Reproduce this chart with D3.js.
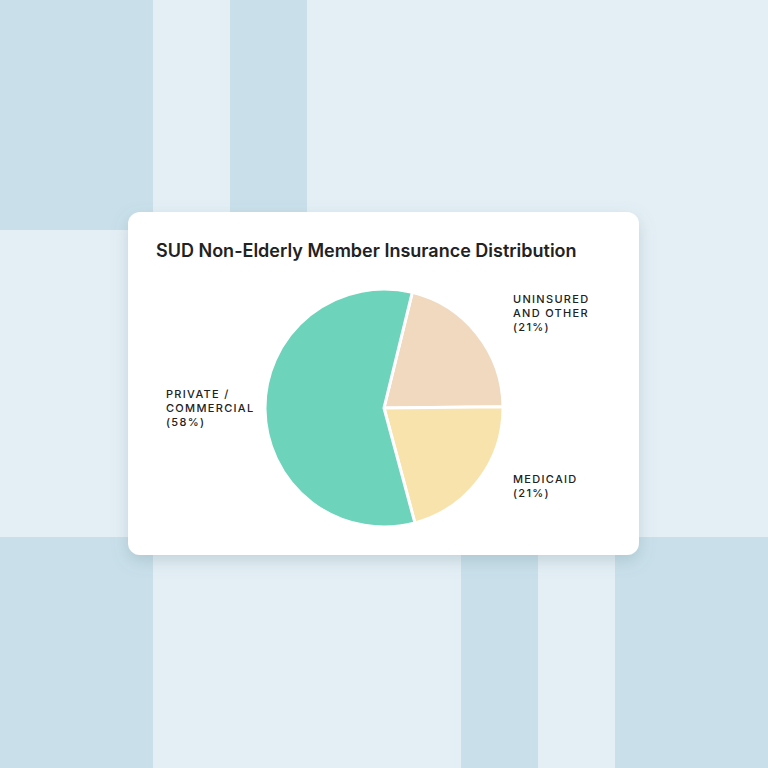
<!DOCTYPE html>
<html><head><meta charset="utf-8">
<script src="https://cdn.jsdelivr.net/npm/d3@7"></script>
<style>body{margin:0;background:#e4eff5}</style>
</head><body>
<div id="plot"></div>
<script>
// Data
const labels = [["UNINSURED", "AND OTHER", "(21%)"], ["MEDICAID", "(21%)"], ["PRIVATE /", "COMMERCIAL", "(58%)"]];
const names = ["Uninsured and Other", "Medicaid", "Private / Commercial"];
const values = [21, 21, 58];
const colors = ["#f0d9bf", "#f9e3ad", "#6dd4bb"];

const width = 768, height = 768;
const svg = d3.select('#plot').append('svg')
  .attr('width', width).attr('height', height)
  .style('display', 'block');

// background blocks
svg.append('rect').attr('width', width).attr('height', height).attr('fill', '#e4eff5');
const dark = '#c9e0ea';
[[0, 0, 153, 230], [230, 0, 77, 230], [0, 537, 153, 231], [461, 537, 77, 231], [615, 537, 153, 231]]
  .forEach(b => svg.append('rect').attr('x', b[0]).attr('y', b[1]).attr('width', b[2]).attr('height', b[3]).attr('fill', dark));

// card
const defs = svg.append('defs');
const f = defs.append('filter').attr('id', 'sh').attr('x', '-20%').attr('y', '-20%').attr('width', '140%').attr('height', '140%');
f.append('feDropShadow').attr('dx', 0).attr('dy', 6).attr('stdDeviation', 8).attr('flood-color', '#5a7a8a').attr('flood-opacity', 0.25);
svg.append('rect').attr('x', 128).attr('y', 212).attr('width', 511).attr('height', 343)
  .attr('rx', 12).attr('fill', '#fff').attr('filter', 'url(#sh)');

svg.append('text').attr('x', 156).attr('y', 257)
  .style('font-family', 'Inter, sans-serif').style('font-size', '18px').style('font-weight', 600)
  .attr('fill', '#222').text('SUD Non-Elderly Member Insurance Distribution');

// pie
const cx = 384, cy = 408, r = 119;
const pie = d3.pie().sort(null).startAngle(0.24).endAngle(0.24 + 2 * Math.PI);
const arc = d3.arc().innerRadius(0).outerRadius(r);
svg.append('g').attr('transform', `translate(${cx},${cy})`)
  .selectAll('path').data(pie(values)).join('path')
  .attr('d', arc).attr('fill', (d, i) => colors[i])
  .attr('stroke', '#fff').attr('stroke-width', 3).attr('stroke-linejoin', 'round');

// labels
const labelPos = [[513, 303], [513, 483], [166, 398]];
labels.forEach((lines, i) => {
  const t = svg.append('text').attr('x', labelPos[i][0]).attr('y', labelPos[i][1])
    .style('font-family', 'Inter, sans-serif').style('font-size', '11px').style('font-weight', 500)
    .style('letter-spacing', '1.3px').attr('fill', '#222');
  lines.forEach((l, j) => t.append('tspan').attr('x', labelPos[i][0]).attr('dy', j ? 14 : 0).text(l));
});
</script>
</body></html>
